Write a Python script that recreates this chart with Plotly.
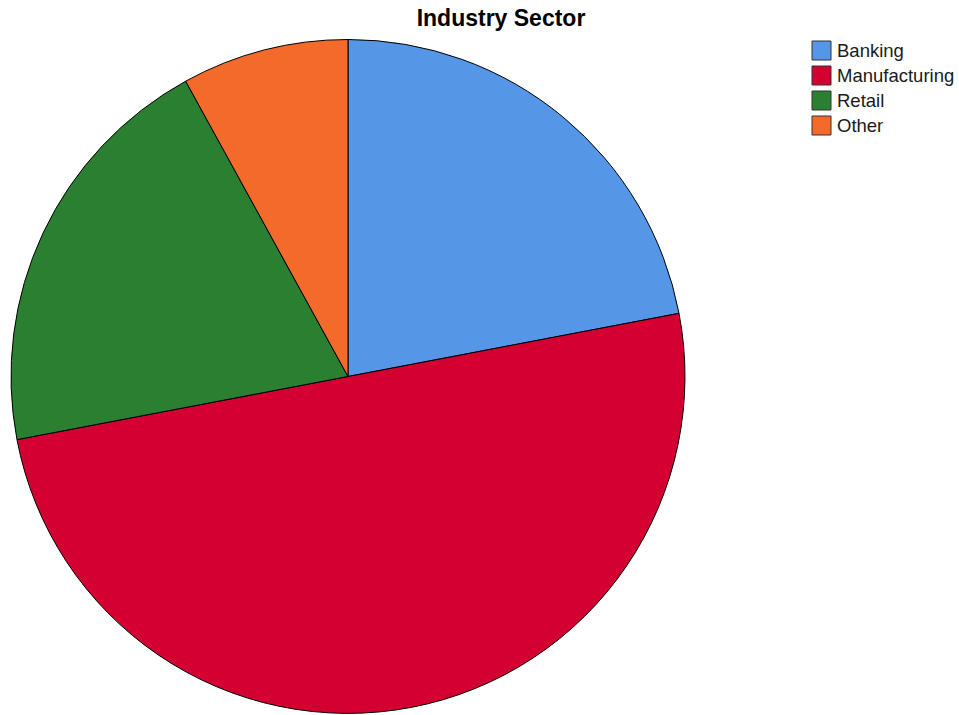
import plotly.graph_objects as go

# Industry sector shares (percent)
sectors = ["Banking", "Manufacturing", "Retail", "Other"]
shares = [22, 50, 20, 8]
colors = ["#5596E6", "#D50032", "#2A8030", "#F36A2A"]

W, H = 959, 715

fig = go.Figure(
    go.Pie(
        labels=sectors,
        values=shares,
        sort=False,
        direction="clockwise",
        rotation=0,
        textinfo="none",
        hoverinfo="label+percent",
        showlegend=False,
        marker=dict(colors=colors, line=dict(color="black", width=1)),
        domain=dict(x=[11 / W, 685 / W], y=[1 - 714 / H, 1 - 39 / H]),
    )
)

# Legend key: colour swatch plus label for each sector
shapes, annotations = [], []
sw_left, sw_size, row_top, row_step = 812, 19, 41, 25
for i, (name, col) in enumerate(zip(sectors, colors)):
    top = row_top + i * row_step
    shapes.append(dict(
        type="rect", xref="paper", yref="paper",
        x0=sw_left / W, x1=(sw_left + sw_size) / W,
        y0=1 - (top + sw_size) / H, y1=1 - top / H,
        fillcolor=col, line=dict(color="#333333", width=1),
    ))
    annotations.append(dict(
        text=name, xref="paper", yref="paper",
        x=(sw_left + sw_size + 4) / W, xanchor="left",
        y=1 - (top + sw_size / 2) / H, yanchor="middle",
        showarrow=False, font=dict(size=18.5, color="#1a1a1a"),
    ))

fig.update_layout(
    width=W,
    height=H,
    margin=dict(l=0, r=0, t=0, b=0),
    paper_bgcolor="white",
    plot_bgcolor="white",
    font=dict(family="Liberation Sans, Arial, sans-serif", color="black"),
    title=dict(
        text="<b>Industry Sector</b>",
        x=501 / W,
        xanchor="center",
        y=1 - 18 / H,
        yanchor="middle",
        font=dict(size=23, color="black"),
    ),
    shapes=shapes,
    annotations=annotations,
)

fig.write_html("out.html")
